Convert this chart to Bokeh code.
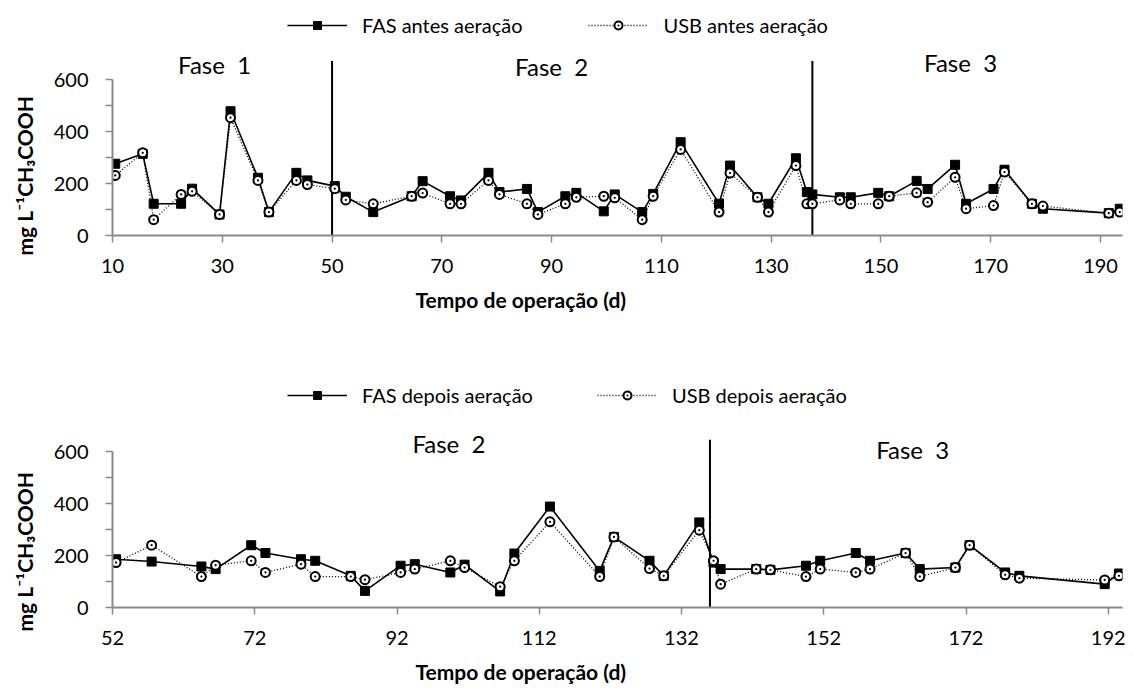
from bokeh.core.properties import value
from bokeh.embed import file_html
from bokeh.layouts import column
from bokeh.models import FixedTicker, Legend, LegendItem, Range1d, Title
from bokeh.plotting import figure
from bokeh.resources import INLINE

# ---------------------------------------------------------------- data
# Before aeration (days of operation, mg/L CH3COOH)
antes_dias = [10.5, 15.5, 17.5, 22.5, 24.5, 29.5, 31.5, 36.5, 38.5, 43.5,
              45.5, 50.5, 52.5, 57.5, 64.5, 66.5, 71.5, 73.5, 78.5, 80.5,
              85.5, 87.5, 92.5, 94.5, 99.5, 101.5, 106.5, 108.5, 113.5, 120.5,
              122.5, 127.5, 129.5, 134.5, 136.5, 137.5, 142.5, 144.5, 149.5, 151.5,
              156.5, 158.5, 163.5, 165.5, 170.5, 172.5, 177.5, 179.5, 191.5, 193.5]
fas_antes = [276, 314, 122, 122, 180, 81, 478, 222, 90, 241,
             212, 190, 149, 90, 151, 209, 151, 135, 241, 167,
             179, 90, 151, 164, 93, 158, 90, 160, 359, 122,
             269, 147, 122, 297, 167, 158, 147, 147, 164, 151,
             210, 179, 272, 122, 179, 253, 122, 103, 86, 103]
usb_antes = [231, 318, 61, 158, 170, 81, 453, 212, 90, 212,
             196, 180, 137, 122, 151, 163, 122, 122, 212, 158,
             122, 81, 122, 147, 151, 145, 61, 151, 331, 90,
             240, 147, 90, 269, 122, 122, 137, 122, 122, 151,
             164, 128, 224, 103, 115, 244, 122, 113, 86, 90]

# After aeration
depois_dias = [52.5, 57.5, 64.5, 66.5, 71.5, 73.5, 78.5, 80.5, 85.5, 87.5,
               92.5, 94.5, 99.5, 101.5, 106.5, 108.5, 113.5, 120.5, 122.5, 127.5,
               129.5, 134.5, 136.5, 137.5, 142.5, 144.5, 149.5, 151.5, 156.5, 158.5,
               163.5, 165.5, 170.5, 172.5, 177.5, 179.5, 191.5, 193.5]
fas_depois = [186, 177, 158, 148, 240, 210, 186, 180, 122, 64,
              161, 167, 135, 165, 62, 208, 389, 141, 272, 180,
              122, 328, 173, 148, 148, 145, 161, 180, 210, 180,
              210, 148, 154, 240, 135, 122, 90, 131]
usb_depois = [173, 240, 119, 163, 180, 135, 167, 119, 119, 107,
              135, 148, 180, 154, 80, 180, 330, 119, 272, 150,
              122, 298, 180, 90, 148, 145, 119, 148, 135, 148,
              210, 119, 154, 240, 126, 113, 106, 122]

# axis ticks and phase annotations
antes_ticks = [10, 30, 50, 70, 90, 110, 130, 150, 170, 190]
depois_ticks = [52, 72, 92, 112, 132, 152, 172, 192]
y_ticks = [0, 100, 200, 300, 400, 500, 600]

antes_limites = [50, 137.5]
antes_fases = ["Fase \u00a01", "Fase \u00a02", "Fase \u00a03"]
antes_fases_x = [28.6, 90.0, 164.5]
antes_fases_y = [658, 650, 665]

depois_limites = [136]
depois_fases = ["Fase \u00a02", "Fase \u00a03"]
depois_fases_x = [99.3, 164.5]
depois_fases_y = [631, 608]

# ---------------------------------------------------------------- style
FONT = "Lato"
GREY = "#8a8a8a"
Y_TITLE = "mg L\u207b\u00b9CH\u2083COOH"
X_TITLE = "Tempo de operação (d)"


def painel(dias, fas, usb, nome_fas, nome_usb, x_range, x_ticks,
           limites, lim_top, fases, fx, fy,
           height, frame_h, y_per_px, border_bottom, legend_loc,
           ytitle_offset, xtitle_standoff, spacing):
    p = figure(width=1134, height=height, output_backend="svg",
               toolbar_location=None,
               x_range=Range1d(*x_range),
               y_range=Range1d(0, frame_h / y_per_px),
               min_border_left=112, min_border_right=12,
               min_border_top=5, min_border_bottom=border_bottom)
    p.outline_line_color = None
    p.xgrid.visible = False
    p.ygrid.visible = False
    p.background_fill_color = "white"
    p.border_fill_color = "white"

    # x axis
    xa = p.xaxis[0]
    xa.ticker = FixedTicker(ticks=x_ticks)
    xa.axis_line_color = GREY
    xa.axis_line_width = 2
    xa.major_tick_line_color = GREY
    xa.major_tick_line_width = 1.5
    xa.major_tick_in = 0
    xa.major_tick_out = 7
    xa.minor_tick_line_color = None
    xa.major_label_standoff = 16
    xa.major_label_text_font = FONT
    xa.major_label_text_font_size = "20px"
    xa.major_label_text_color = "black"

    # y axis
    ya = p.yaxis[0]
    ya.bounds = (0, 600)
    ya.ticker = FixedTicker(ticks=y_ticks)
    ya.major_label_overrides = {100: "", 300: "", 500: ""}
    ya.axis_line_color = GREY
    ya.axis_line_width = 2
    ya.major_tick_line_color = GREY
    ya.major_tick_line_width = 1.5
    ya.major_tick_in = 0
    ya.major_tick_out = 7
    ya.minor_tick_line_color = None
    ya.major_label_standoff = 17
    ya.major_label_text_font = FONT
    ya.major_label_text_font_size = "20px"
    ya.major_label_text_color = "black"

    # axis titles
    p.add_layout(Title(text=X_TITLE, align="left", offset=303,
                       standoff=xtitle_standoff,
                       text_font=FONT, text_font_style="bold",
                       text_font_size="21px", text_color="black"), "below")
    p.add_layout(Title(text=Y_TITLE, align="left", offset=ytitle_offset,
                       vertical_align="top", standoff=23,
                       text_font=FONT, text_font_style="bold",
                       text_font_size="21px", text_color="black"), "left")

    # phase boundaries and names
    p.segment(x0=limites, y0=[0] * len(limites), x1=limites,
              y1=[lim_top] * len(limites), line_color="black", line_width=2)
    p.text(x=fx, y=fy, text=fases, text_font=value(FONT),
           text_font_size="24px", text_align="center",
           text_baseline="middle", text_color="black")

    # series
    l_fas = p.line(dias, fas, line_color="black", line_width=1.6)
    s_fas = p.scatter(dias, fas, marker="square", size=9,
                      fill_color="black", line_color="black")
    l_usb = p.line(dias, usb, line_color="black", line_width=1.3,
                   line_dash="1 2")
    s_usb = p.scatter(dias, usb, marker="circle_dot", size=9,
                      fill_color="white", line_color="black", line_width=2)

    leg = Legend(items=[LegendItem(label=nome_fas, renderers=[l_fas, s_fas]),
                        LegendItem(label=nome_usb, renderers=[l_usb, s_usb])],
                 orientation="horizontal", location=legend_loc,
                 glyph_width=60, glyph_height=20, label_standoff=15,
                 spacing=spacing, padding=0, margin=0,
                 border_line_color=None, background_fill_alpha=0,
                 label_text_font=FONT, label_text_font_size="20px",
                 label_text_color="black")
    p.add_layout(leg)
    return p


p1 = painel(antes_dias, fas_antes, usb_antes,
            "FAS antes aeração", "USB antes aeração",
            (10, 194), antes_ticks, antes_limites, 671,
            antes_fases, antes_fases_x, antes_fases_y,
            height=346, frame_h=230, y_per_px=0.26, border_bottom=111,
            legend_loc=(175, 198), ytitle_offset=-20, xtitle_standoff=18,
            spacing=66)

p2 = painel(depois_dias, fas_depois, usb_depois,
            "FAS depois aeração", "USB depois aeração",
            (52, 194), depois_ticks, depois_limites, 646,
            depois_fases, depois_fases_x, depois_fases_y,
            height=347, frame_h=256, y_per_px=0.2595, border_bottom=86,
            legend_loc=(175, 200), ytitle_offset=-24, xtitle_standoff=19,
            spacing=64)

layout = column(p1, p2, spacing=0)

with open("out.html", "w") as f:
    f.write(file_html(layout, INLINE))
